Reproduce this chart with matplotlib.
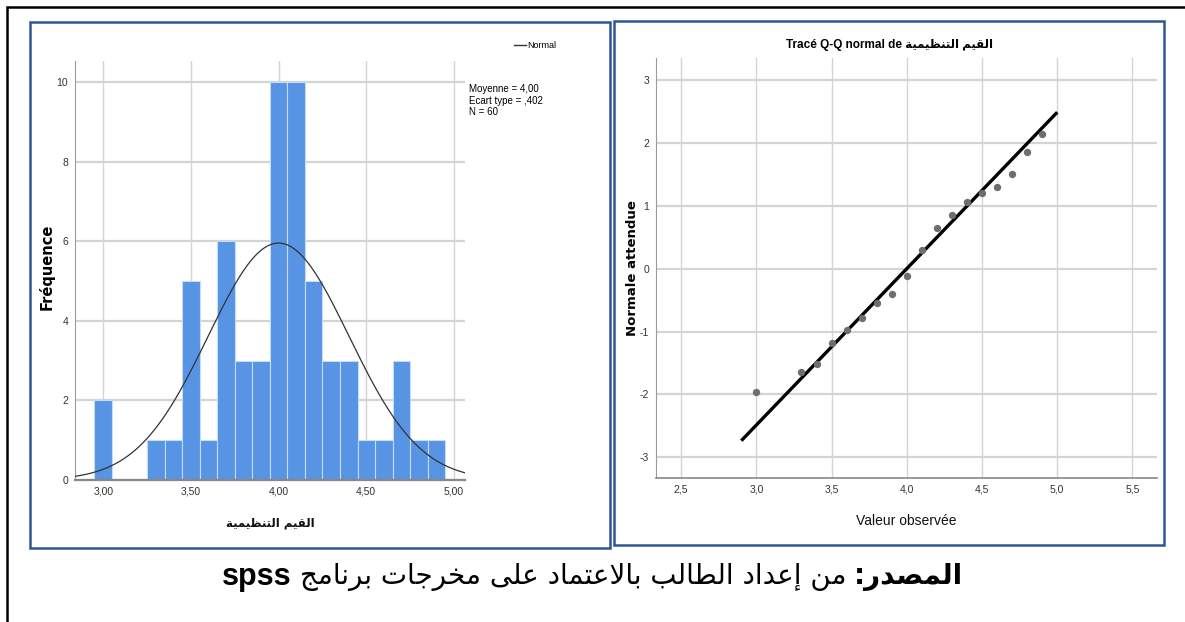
import numpy as np
import matplotlib
matplotlib.use("Agg")
import matplotlib.pyplot as plt
from matplotlib.patches import Rectangle
from matplotlib import font_manager

# ---------------- data ----------------
bin_centers = [3.0, 3.1, 3.2, 3.3, 3.4, 3.5, 3.6, 3.7, 3.8, 3.9,
               4.0, 4.1, 4.2, 4.3, 4.4, 4.5, 4.6, 4.7, 4.8, 4.9]
frequencies = [2, 0, 0, 1, 1, 5, 1, 6, 3, 3,
               10, 10, 5, 3, 3, 1, 1, 3, 1, 1]
mean_val = 4.00
sd_val = 0.402
n_val = 60
bin_width = 0.1

hist_xticks = [3.0, 3.5, 4.0, 4.5, 5.0]
hist_xticklabels = ["3,00", "3,50", "4,00", "4,50", "5,00"]
hist_yticks = [0, 2, 4, 6, 8, 10]

qq_observed = [3.0, 3.3, 3.4, 3.5, 3.6, 3.7, 3.8, 3.9, 4.0,
               4.1, 4.2, 4.3, 4.4, 4.5, 4.6, 4.7, 4.8, 4.9]
qq_expected = [-1.97, -1.64, -1.51, -1.19, -0.97, -0.78, -0.54, -0.40, -0.12,
               0.30, 0.64, 0.86, 1.06, 1.20, 1.30, 1.51, 1.85, 2.14]
qq_line_range = [2.9, 5.0]
qq_xticks = [2.5, 3.0, 3.5, 4.0, 4.5, 5.0, 5.5]
qq_xticklabels = ["2,5", "3,0", "3,5", "4,0", "4,5", "5,0", "5,5"]
qq_yticks = [-3, -2, -1, 0, 1, 2, 3]

var_label_ar = "القيم التنظيمية"
caption_bold_ar = "المصدر"
caption_rest_ar = "من إعداد الطالب بالاعتماد على مخرجات برنامج"
caption_software = "spss"

# ---------------- simple Arabic shaping (presentation forms) ----------------
FORMS = {
    '\u0627': ('\uFE8D', '\uFE8E', None, None),
    '\u0623': ('\uFE83', '\uFE84', None, None),
    '\u0625': ('\uFE87', '\uFE88', None, None),
    '\u0622': ('\uFE81', '\uFE82', None, None),
    '\u0628': ('\uFE8F', '\uFE90', '\uFE91', '\uFE92'),
    '\u062A': ('\uFE95', '\uFE96', '\uFE97', '\uFE98'),
    '\u0629': ('\uFE93', '\uFE94', None, None),
    '\u062C': ('\uFE9D', '\uFE9E', '\uFE9F', '\uFEA0'),
    '\u062E': ('\uFEA5', '\uFEA6', '\uFEA7', '\uFEA8'),
    '\u062F': ('\uFEA9', '\uFEAA', None, None),
    '\u0631': ('\uFEAD', '\uFEAE', None, None),
    '\u0635': ('\uFEB9', '\uFEBA', '\uFEBB', '\uFEBC'),
    '\u0637': ('\uFEC1', '\uFEC2', '\uFEC3', '\uFEC4'),
    '\u0638': ('\uFEC5', '\uFEC6', '\uFEC7', '\uFEC8'),
    '\u0639': ('\uFEC9', '\uFECA', '\uFECB', '\uFECC'),
    '\u0642': ('\uFED5', '\uFED6', '\uFED7', '\uFED8'),
    '\u0644': ('\uFEDD', '\uFEDE', '\uFEDF', '\uFEE0'),
    '\u0645': ('\uFEE1', '\uFEE2', '\uFEE3', '\uFEE4'),
    '\u0646': ('\uFEE5', '\uFEE6', '\uFEE7', '\uFEE8'),
    '\u064A': ('\uFEF1', '\uFEF2', '\uFEF3', '\uFEF4'),
    '\u0649': ('\uFEEF', '\uFEF0', None, None),
}
LAM_ALEF = {'\u0627': ('\uFEFB', '\uFEFC'), '\u0623': ('\uFEF7', '\uFEF8'),
            '\u0625': ('\uFEF9', '\uFEFA'), '\u0622': ('\uFEF5', '\uFEF6')}


def shape_ar(text):
    units = []
    i = 0
    while i < len(text):
        c = text[i]
        if c == '\u0644' and i + 1 < len(text) and text[i + 1] in LAM_ALEF:
            units.append(('LA', text[i + 1]))
            i += 2
        else:
            units.append(('C', c))
            i += 1

    def joins_next(u):
        if u[0] == 'LA':
            return False
        f = FORMS.get(u[1])
        return f is not None and f[2] is not None

    def is_letter(u):
        return u[0] == 'LA' or u[1] in FORMS

    out = []
    for k, u in enumerate(units):
        prev_j = k > 0 and joins_next(units[k - 1]) and is_letter(u)
        next_j = k + 1 < len(units) and joins_next(u) and is_letter(units[k + 1])
        if u[0] == 'LA':
            iso, fin = LAM_ALEF[u[1]]
            out.append(fin if prev_j else iso)
            continue
        f = FORMS.get(u[1])
        if f is None:
            out.append(u[1])
            continue
        iso, fin, ini, med = f
        if prev_j and next_j:
            out.append(med)
        elif prev_j:
            out.append(fin)
        elif next_j:
            out.append(ini)
        else:
            out.append(iso)
    return ''.join(out)[::-1]


# ---------------- fonts ----------------
avail = {f.name for f in font_manager.fontManager.ttflist}
narrow = 'Liberation Sans Narrow' if 'Liberation Sans Narrow' in avail else 'Liberation Sans'
FAM = [narrow, 'DejaVu Sans']
plt.rcParams['font.family'] = FAM
plt.rcParams['axes.unicode_minus'] = False

W, H = 1185, 622
fig = plt.figure(figsize=(W / 100, H / 100), dpi=100)


def fx(px):
    return px / W


def fy(py):
    return 1 - py / H


# outer black frame
fig.patches.append(Rectangle((fx(7), fy(640)), fx(1200 - 7), (640 - 7) / H,
                             transform=fig.transFigure, fill=False,
                             edgecolor='black', lw=1.8, zorder=0))
# blue panel frames
for (x0, y0, x1, y1) in [(30, 22, 610, 548), (614, 21, 1164, 545)]:
    fig.patches.append(Rectangle((fx(x0), fy(y1)), fx(x1 - x0), (y1 - y0) / H,
                                 transform=fig.transFigure, fill=False,
                                 edgecolor='#2E5592', lw=1.8, zorder=0))

grid_c = '#d4d4d4'
spine_c = '#9a9a9a'
tick_c = '#333333'

# ---------------- histogram ----------------
ax1 = fig.add_axes([fx(75), fy(480), fx(465 - 75), (480 - 61) / H])
ax1.set_xlim(2.839, 5.063)
ax1.set_ylim(0, 10.53)
ax1.set_axisbelow(True)
for yv in hist_yticks:
    ax1.axhline(yv, color=grid_c, lw=1.6, zorder=0)
for xv in hist_xticks:
    ax1.axvline(xv, color=grid_c, lw=1.0, zorder=0)
ax1.bar(bin_centers, frequencies, width=bin_width, color='#5794E3',
        edgecolor='#C6DCF6', linewidth=0.8, zorder=2)
xs = np.linspace(2.839, 5.063, 400)
ys = n_val * bin_width / (sd_val * np.sqrt(2 * np.pi)) * np.exp(-0.5 * ((xs - mean_val) / sd_val) ** 2)
ax1.plot(xs, ys, color='#333333', lw=0.9, zorder=3)
ax1.set_xticks(hist_xticks)
ax1.set_xticklabels(hist_xticklabels)
ax1.set_yticks(hist_yticks)
ax1.tick_params(length=0, labelsize=7.5, colors=tick_c, pad=5)
for s in ['top', 'right']:
    ax1.spines[s].set_visible(False)
ax1.spines['left'].set_color(spine_c)
ax1.spines['bottom'].set_color('#888888')
ax1.spines['bottom'].set_linewidth(1.6)
ax1.set_xlabel(shape_ar(var_label_ar), fontsize=8.5, family=['DejaVu Sans'],
               fontweight='bold', labelpad=14, color='#111111')
fig.text(fx(47), fy(267), 'Fréquence', rotation=90, ha='center', va='center',
         fontsize=10.5, fontweight='bold', family=['DejaVu Sans'])
# legend & stats
fig.lines.append(plt.Line2D([fx(514), fx(526)], [fy(45), fy(45)],
                            transform=fig.transFigure, color='#333333', lw=1.0))
fig.text(fx(527), fy(45), 'Normal', ha='left', va='center', fontsize=6.5)
stats_lines = ['Moyenne = 4,00', 'Ecart type = ,402', 'N = %d' % n_val]
for k, line in enumerate(stats_lines):
    fig.text(fx(469), fy(89 + 11.5 * k), line, ha='left', va='center', fontsize=7)

# ---------------- Q-Q plot ----------------
ax2 = fig.add_axes([fx(656), fy(478), fx(1157 - 656), (478 - 58) / H])
ax2.set_xlim(2.333, 5.663)
ax2.set_ylim(-3.33, 3.35)
for yv in qq_yticks:
    ax2.axhline(yv, color=grid_c, lw=1.6, zorder=0)
for xv in qq_xticks:
    ax2.axvline(xv, color=grid_c, lw=1.0, zorder=0)
lx = np.array(qq_line_range)
ax2.plot(lx, (lx - mean_val) / sd_val, color='black', lw=2.4, zorder=2,
         solid_capstyle='butt')
ax2.scatter(qq_observed, qq_expected, s=28, color='#6e6e6e', zorder=3, linewidths=0)
ax2.set_xticks(qq_xticks)
ax2.set_xticklabels(qq_xticklabels)
ax2.set_yticks(qq_yticks)
ax2.tick_params(length=0, labelsize=7.5, colors=tick_c, pad=5)
for s in ['top', 'right']:
    ax2.spines[s].set_visible(False)
ax2.spines['left'].set_color(spine_c)
ax2.spines['bottom'].set_color('#888888')
ax2.spines['bottom'].set_linewidth(1.2)
ax2.set_xlabel('Valeur observée', fontsize=10, labelpad=14, color='#111111')
fig.text(fx(632), fy(268), 'Normale attendue', rotation=90, ha='center', va='center',
         fontsize=9.5, fontweight='bold', family=['DejaVu Sans'])
fig.text(fx(890), fy(45), 'Tracé Q-Q normal de ' + shape_ar(var_label_ar),
         ha='center', va='center', fontsize=8.5, fontweight='bold',
         family=['Liberation Sans', 'DejaVu Sans'])

# ---------------- caption ----------------
renderer = fig.canvas.get_renderer()
cap_y = fy(577)
t_bold = fig.text(fx(963), cap_y, ':' + shape_ar(caption_bold_ar), ha='right',
                  va='center', fontsize=20, fontweight='bold', family=['DejaVu Sans'])
bb = t_bold.get_window_extent(renderer)
t_rest = fig.text(bb.x0 / W - fx(7), cap_y, shape_ar(caption_rest_ar), ha='right',
                  va='center', fontsize=20, family=['DejaVu Sans'])
bb2 = t_rest.get_window_extent(renderer)
fig.text(bb2.x0 / W - fx(9), cap_y, caption_software, ha='right', va='center',
         fontsize=22, fontweight='bold', family=['Liberation Sans', 'DejaVu Sans'])

fig.savefig('out.png', dpi=100)
